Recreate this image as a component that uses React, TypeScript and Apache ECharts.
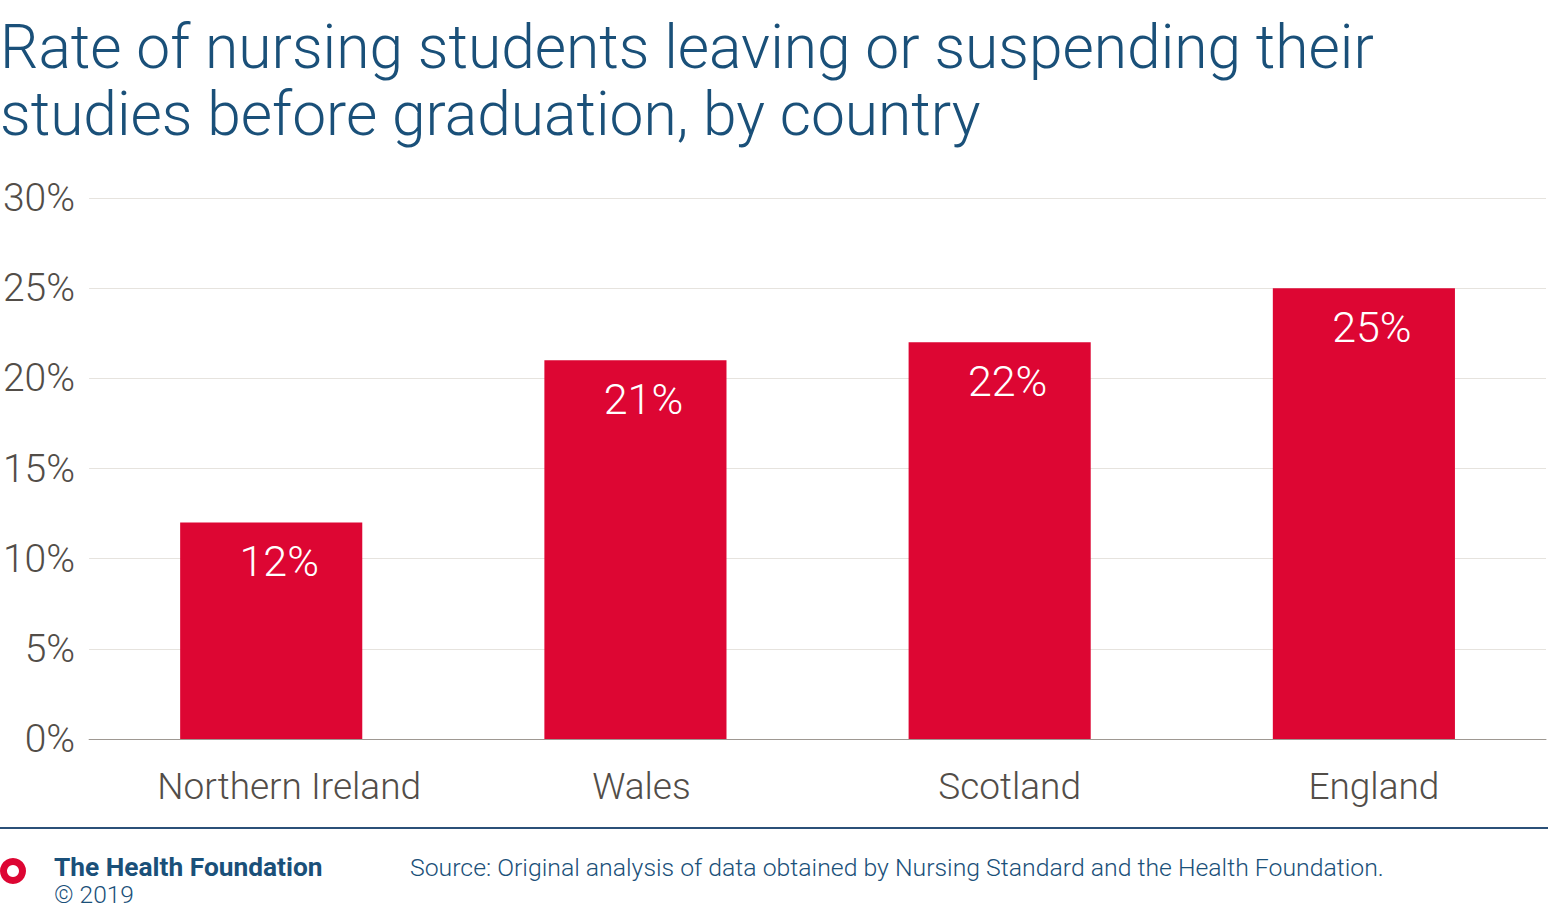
import React, { useEffect, useRef } from "react";
import * as echarts from "echarts";

const categories = ["Northern Ireland", "Wales", "Scotland", "England"];
const rates = [12, 21, 22, 25];
const titleText = "Rate of nursing students leaving or suspending their\nstudies before graduation, by country";
const sourceText = "Source: Original analysis of data obtained by Nursing Standard and the Health Foundation.";
const orgText = "The Health Foundation";
const copyText = "© 2019";

const FONT = "Roboto, 'Liberation Sans', sans-serif";
const BLUE = "#1a5079";
const GREY = "#524d48";
const RED = "#dd0633";

export default function App() {
  const ref = useRef<HTMLDivElement>(null);
  useEffect(() => {
    document.body.style.margin = "0";
    const labelPad = [36, 12, 20, 20];
    const chart = echarts.init(ref.current!, null, { renderer: "svg" });
    chart.setOption({
      animation: false,
      backgroundColor: "#ffffff",
      title: {
        text: titleText,
        left: -5,
        top: 9,
        textStyle: {
          fontFamily: FONT,
          fontWeight: 300,
          fontSize: 60.5,
          lineHeight: 67,
          color: BLUE,
        },
      },
      grid: { left: 84, right: 6, top: 198, bottom: 175, containLabel: false },
      xAxis: {
        type: "category",
        data: categories.map((c, i) => ({
          value: c,
          textStyle: { padding: [0, 0, 0, labelPad[i]] },
        })),
        axisTick: { show: false },
        axisLine: { lineStyle: { color: "#9e9892", width: 1 } },
        axisLabel: {
          fontFamily: FONT,
          fontWeight: 300,
          fontSize: 37,
          color: GREY,
          margin: 29,
        },
      },
      yAxis: {
        type: "value",
        min: 0,
        max: 30,
        interval: 5,
        axisLine: { show: false },
        axisTick: { show: false },
        axisLabel: {
          formatter: "{value}%",
          fontFamily: FONT,
          fontWeight: 300,
          fontSize: 39,
          color: GREY,
          margin: 14,
        },
        splitLine: { lineStyle: { color: "#e6e3de", width: 1 } },
      },
      series: [
        {
          type: "bar",
          data: rates,
          barWidth: "50%",
          itemStyle: { color: RED },
          label: {
            show: true,
            position: "insideTop",
            distance: 17,
            offset: [8, 0],
            formatter: "{c}%",
            fontFamily: FONT,
            fontWeight: 300,
            fontSize: 43,
            color: "#ffffff",
          },
        },
      ],
      graphic: [
        {
          type: "line",
          shape: { x1: 0, y1: 828, x2: 1548, y2: 828 },
          style: { stroke: "#2b5078", lineWidth: 2 },
        },
        {
          type: "ring",
          shape: { cx: 13, cy: 871, r: 13, r0: 6 },
          style: { fill: RED },
        },
        {
          type: "text",
          x: 54,
          y: 867,
          style: {
            text: orgText,
            fontFamily: FONT,
            fontWeight: "bold",
            fontSize: 26.3,
            fill: BLUE,
            verticalAlign: "middle",
          },
        },
        {
          type: "text",
          x: 54,
          y: 894,
          style: {
            text: copyText,
            fontFamily: FONT,
            fontWeight: 300,
            fontSize: 24.5,
            fill: BLUE,
            verticalAlign: "middle",
          },
        },
        {
          type: "text",
          x: 410,
          y: 867,
          style: {
            text: sourceText,
            fontFamily: FONT,
            fontWeight: 300,
            fontSize: 24.8,
            fill: BLUE,
            verticalAlign: "middle",
          },
        },
      ],
    });
    return () => chart.dispose();
  }, []);
  return <div ref={ref} style={{ width: 1552, height: 914 }} />;
}
